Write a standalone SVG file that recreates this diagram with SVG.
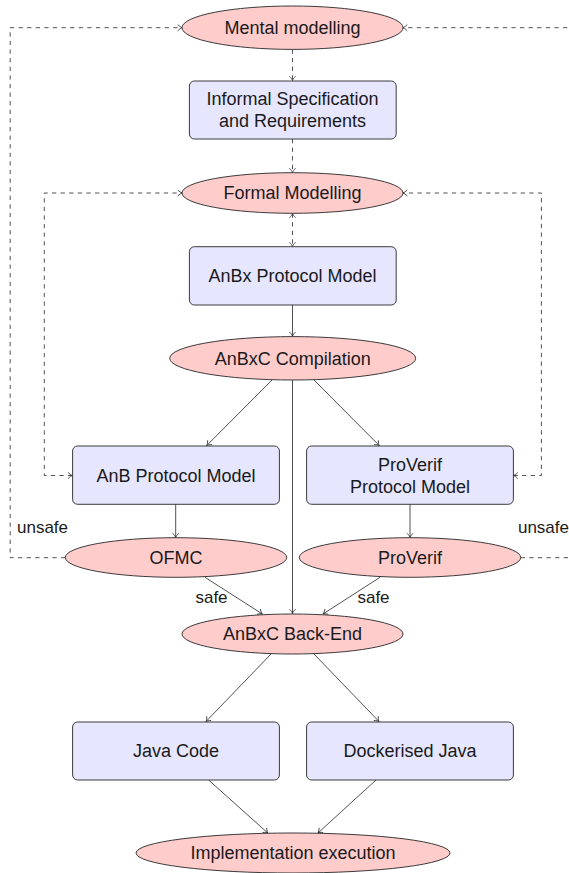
<svg xmlns="http://www.w3.org/2000/svg" width="569" height="873" viewBox="0 0 569 873">
<style>
.box{fill:#e6e6ff;stroke:#262626;stroke-width:0.9}
.ell{fill:#ffcccc;stroke:#262626;stroke-width:0.9}
.t{font-family:"Liberation Sans",Arial,sans-serif;font-size:18px;fill:#1a1a1a;text-anchor:middle}
.lbl{font-family:"Liberation Sans",Arial,sans-serif;font-size:17px;fill:#1a1a1a}
.c{fill:none;stroke:#262626;stroke-width:0.8}
.d{stroke-dasharray:4.3 4.3}
</style>
<defs>
<marker id="ah" markerUnits="userSpaceOnUse" markerWidth="10" markerHeight="10" viewBox="-5 -5 10 10" refX="0" refY="0" orient="auto-start-reverse">
<path d="M-4,-2.8 C-2.5,-1.2 -1,-0.4 0,0 C-1,0.4 -2.5,1.2 -4,2.8" fill="none" stroke="#262626" stroke-width="0.8" stroke-linecap="round"/>
</marker>
</defs>
<g id="connectors">
<path class="c d" d="M292.5,49.4 L292.5,80.5" marker-end="url(#ah)"/>
<path class="c d" d="M292.5,139 L292.5,172.5" marker-end="url(#ah)"/>
<path class="c d" d="M292.5,213.5 L292.5,246.5" marker-start="url(#ah)" marker-end="url(#ah)"/>
<path class="c" d="M292.5,305 L292.5,336.3" marker-end="url(#ah)"/>
<path class="c" d="M272,380 L206.8,445.5" marker-end="url(#ah)"/>
<path class="c" d="M314,380 L379.2,445.5" marker-end="url(#ah)"/>
<path class="c" d="M292.5,380 L292.5,613.5" marker-end="url(#ah)"/>
<path class="c" d="M175.7,504.3 L175.7,537.5" marker-end="url(#ah)"/>
<path class="c" d="M410,504.3 L410,537.5" marker-end="url(#ah)"/>
<path class="c" d="M205,577.3 L262.3,614" marker-end="url(#ah)"/>
<path class="c" d="M380,577.3 L323,614" marker-end="url(#ah)"/>
<path class="c" d="M272,653 L206,721.5" marker-end="url(#ah)"/>
<path class="c" d="M313,653 L379,721.5" marker-end="url(#ah)"/>
<path class="c" d="M208.6,780 L267.8,833" marker-end="url(#ah)"/>
<path class="c" d="M376,780 L318,833" marker-end="url(#ah)"/>
<path class="c d" d="M72.3,475.5 L44.3,475.5 L44.3,193 L182,193" marker-start="url(#ah)" marker-end="url(#ah)"/>
<path class="c d" d="M513.5,475.5 L541.4,475.5 L541.4,193 L403,193" marker-start="url(#ah)" marker-end="url(#ah)"/>
<path class="c d" d="M65.3,557.7 L10.2,557.7 L10.2,27.7 L182,27.7" marker-end="url(#ah)"/>
<path class="c d" d="M520.7,557.7 L580,557.7 L580,27.7 L403,27.7" marker-end="url(#ah)"/>
<text class="lbl" x="17" y="532.7">unsafe</text>
<text class="lbl" x="569" y="532.7" text-anchor="end">unsafe</text>
<text class="lbl" x="211.5" y="603" text-anchor="middle">safe</text>
<text class="lbl" x="373.5" y="603" text-anchor="middle">safe</text>
</g>
<g id="mental"><ellipse class="ell" cx="292.5" cy="27.7" rx="110.5" ry="21.7"/><text class="t" x="292.5" y="34">Mental modelling</text></g>
<g id="informal"><rect class="box" x="189.4" y="81" width="206.8" height="58" rx="5"/><text class="t" x="292.5" y="104.5">Informal Specification</text><text class="t" x="292.5" y="126.5">and Requirements</text></g>
<g id="formal"><ellipse class="ell" cx="292.5" cy="193" rx="110.5" ry="20.3"/><text class="t" x="292.5" y="199.3">Formal Modelling</text></g>
<g id="anbx"><rect class="box" x="189.4" y="246.7" width="206.8" height="58.3" rx="5"/><text class="t" x="292.5" y="282.2">AnBx Protocol Model</text></g>
<g id="compilation"><ellipse class="ell" cx="292.7" cy="358.3" rx="123" ry="21.7"/><text class="t" x="292.7" y="364.6">AnBxC Compilation</text></g>
<g id="anb"><rect class="box" x="72.6" y="446" width="206.8" height="58.3" rx="5"/><text class="t" x="176" y="481.5">AnB Protocol Model</text></g>
<g id="proverifmodel"><rect class="box" x="306.6" y="446" width="206.8" height="58.3" rx="5"/><text class="t" x="410" y="470.5">ProVerif</text><text class="t" x="410" y="493">Protocol Model</text></g>
<g id="ofmc"><ellipse class="ell" cx="176" cy="557.5" rx="110.7" ry="19.8"/><text class="t" x="176" y="563.8">OFMC</text></g>
<g id="proverif"><ellipse class="ell" cx="410" cy="557.5" rx="110.7" ry="19.8"/><text class="t" x="410" y="563.8">ProVerif</text></g>
<g id="backend"><ellipse class="ell" cx="292.5" cy="634" rx="110.5" ry="20"/><text class="t" x="292.5" y="640.3">AnBxC Back-End</text></g>
<g id="java"><rect class="box" x="72.6" y="722" width="206.8" height="58" rx="5"/><text class="t" x="176" y="757.3">Java Code</text></g>
<g id="docker"><rect class="box" x="306.6" y="722" width="206.8" height="58" rx="5"/><text class="t" x="410" y="757.3">Dockerised Java</text></g>
<g id="impl"><ellipse class="ell" cx="293" cy="853" rx="157" ry="20"/><text class="t" x="293" y="859.3">Implementation execution</text></g>
</svg>
